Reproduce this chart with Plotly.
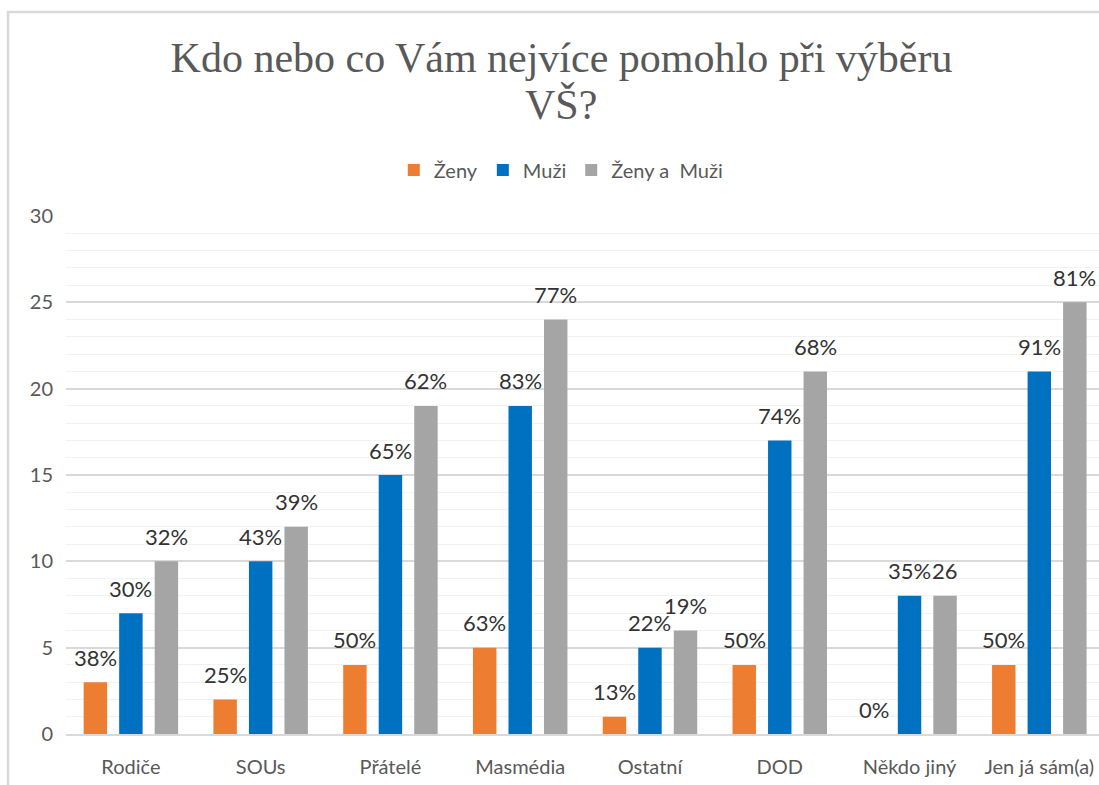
import plotly.graph_objects as go

categories = ["Rodiče", "SOUs", "Přátelé", "Masmédia", "Ostatní", "DOD", "Někdo jiný", "Jen já sám(a)"]
series_names = ["Ženy", "Muži", "Ženy a  Muži"]
zeny = [3, 2, 4, 5, 1, 4, 0, 4]
muzi = [7, 10, 15, 19, 5, 17, 8, 21]
oboje = [10, 12, 19, 24, 6, 21, 8, 25]
zeny_labels = ["38%", "25%", "50%", "63%", "13%", "50%", "0%", "50%"]
muzi_labels = ["30%", "43%", "65%", "83%", "22%", "74%", "35%", "91%"]
oboje_labels = ["32%", "39%", "62%", "77%", "19%", "68%", "26", "81%"]
y_ticks = [0, 5, 10, 15, 20, 25, 30]
title_line1 = "Kdo nebo co Vám nejvíce pomohlo při výběru"
title_line2 = "VŠ?"

colors = ["#ED7D31", "#0070C0", "#A5A5A5"]
label_font = dict(family="Lato, Open Sans, sans-serif", size=22, color="#333333")
axis_font = dict(family="Lato, Open Sans, sans-serif", size=20, color="#595959")
title_font = dict(family="Liberation Serif, Times New Roman, serif", size=42, color="#595959")

fig = go.Figure()
all_values = [zeny, muzi, oboje]
all_labels = [zeny_labels, muzi_labels, oboje_labels]
for name, vals, col in zip(series_names, all_values, colors):
    fig.add_trace(go.Bar(name=name, x=categories, y=vals, marker_color=col,
                         marker_line_width=0, hoverinfo="x+y"))

offsets = [-35.5, 0, 35.5]
for vals, labs, dx in zip(all_values, all_labels, offsets):
    for c, v, t in zip(categories, vals, labs):
        fig.add_annotation(x=c, y=v, text=t, showarrow=False, xshift=dx,
                           yanchor="middle", yshift=25, font=label_font)

fig.add_annotation(text=title_line2, xref="paper", yref="paper", x=0.4792, y=1.2143,
                   xanchor="center", yanchor="middle", showarrow=False, font=title_font)

fig.add_shape(type="rect", xref="paper", yref="paper", x0=-0.0561, x1=1.2,
              y0=-0.3, y1=1.3938, line=dict(color="#d9d9d9", width=2.5),
              layer="below")

fig.update_layout(
    width=1099, height=785,
    margin=dict(l=66, r=0, t=216, b=51),
    paper_bgcolor="white", plot_bgcolor="white",
    barmode="group", bargap=0.179, bargroupgap=0.34,
    title=dict(text=title_line1,
               x=561.5 / 1099, xanchor="center", xref="container",
               y=1 - 57 / 785, yanchor="middle", yref="container",
               font=title_font),
    legend=dict(orientation="h", x=0.479, xanchor="center", y=1.089, yanchor="middle",
                font=dict(family="Lato, Open Sans, sans-serif", size=20, color="#595959"),
                itemwidth=30, traceorder="normal"),
    showlegend=True,
)
fig.update_xaxes(range=[-0.5, 7.46], showgrid=False, showline=True, linecolor="#d9d9d9",
                 linewidth=1.5, ticks="", tickfont=axis_font, ticklabelstandoff=14)
fig.update_yaxes(range=[0, 30], tickvals=y_ticks, showgrid=True, gridcolor="#d9d9d9",
                 gridwidth=1.5, zeroline=False, showline=False, tickfont=axis_font,
                 ticklabelstandoff=12,
                 minor=dict(dtick=1, showgrid=True, gridcolor="#f2f2f2", gridwidth=1))

fig.write_html("out.html",
               config={"displayModeBar": False},
               post_script="document.body.style.margin='0';"
                           "document.documentElement.style.overflow='hidden';"
                           "document.body.style.overflow='hidden';")
